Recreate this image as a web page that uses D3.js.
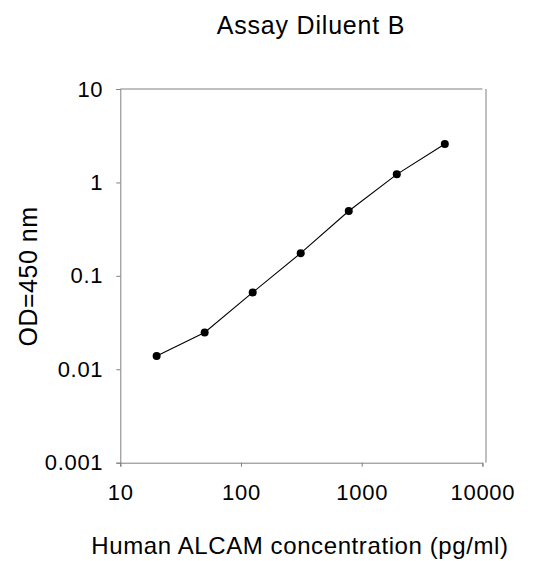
<!DOCTYPE html>
<html><head><meta charset="utf-8">
<script src="https://cdn.jsdelivr.net/npm/d3@7"></script>
<style>body{margin:0;background:#fff}svg{display:block}text{font-family:"Liberation Sans",Arial,sans-serif;fill:#000}</style>
</head><body>
<script>
const concentrations = [20, 50, 125, 312.5, 781.25, 1953, 4883];
const odValues = [0.0139, 0.0248, 0.0665, 0.175, 0.494, 1.22, 2.58];
const xTicks = [10, 100, 1000, 10000];
const yTicks = [0.001, 0.01, 0.1, 1, 10];
const xTickLabels = ["10", "100", "1000", "10000"];
const yTickLabels = ["0.001", "0.01", "0.1", "1", "10"];

const W = 538, H = 561;
const svg = d3.select("body").append("svg").attr("width", W).attr("height", H);
const x = d3.scaleLog().domain([10, 10000]).range([120.3, 482.4]);
const y = d3.scaleLog().domain([0.001, 10]).range([462.7, 89]);
const axisColor = "#808080";

// plot border (top and right)
svg.append("line").attr("x1", x(10)).attr("x2", x(10000)).attr("y1", y(10)).attr("y2", y(10)).attr("stroke", axisColor).attr("stroke-width", 1);
svg.append("line").attr("x1", 486).attr("x2", 486).attr("y1", y(10)).attr("y2", y(0.001)).attr("stroke", axisColor).attr("stroke-width", 1);

const xAxis = svg.append("g").attr("transform", `translate(0,${y(0.001)})`)
  .call(d3.axisBottom(x).tickValues(xTicks).tickFormat((d,i)=>xTickLabels[i]).tickSizeOuter(0).tickSize(4).tickPadding(18));
const yAxis = svg.append("g").attr("transform", `translate(${x(10)},0)`)
  .call(d3.axisLeft(y).tickValues(yTicks).tickFormat((d,i)=>yTickLabels[i]).tickSizeOuter(0).tickSize(4).tickPadding(13));
[xAxis, yAxis].forEach(g => {
  g.attr("font-size", null).attr("font-family", null);
  g.select(".domain").attr("stroke", axisColor);
  g.selectAll(".tick line").attr("stroke", axisColor);
  g.selectAll(".tick text").style("font-size", "22px").style("letter-spacing", "0.7px")
    .style("font-family", "Liberation Sans, Arial, sans-serif").attr("fill", "#000");
});

const line = d3.line().x((d,i)=>x(concentrations[i])).y(d=>y(d));
svg.append("path").datum(odValues).attr("d", line).attr("fill", "none").attr("stroke", "#000").attr("stroke-width", 1.1);
svg.selectAll("circle.pt").data(odValues).enter().append("circle")
  .attr("cx", (d,i)=>x(concentrations[i])).attr("cy", d=>y(d)).attr("r", 4).attr("fill", "#000");

svg.append("text").attr("x", 311).attr("y", 34).attr("text-anchor", "middle")
  .style("font-size", "25px").style("letter-spacing", "0.8px").text("Assay Diluent B");
svg.append("text").attr("x", 300).attr("y", 554).attr("text-anchor", "middle")
  .style("font-size", "24px").style("letter-spacing", "0.6px").text("Human ALCAM concentration (pg/ml)");
svg.append("text").attr("transform", "translate(37,276.5) rotate(-90)").attr("text-anchor", "middle")
  .style("font-size", "25px").style("letter-spacing", "0.5px").text("OD=450 nm");
</script>
</body></html>
